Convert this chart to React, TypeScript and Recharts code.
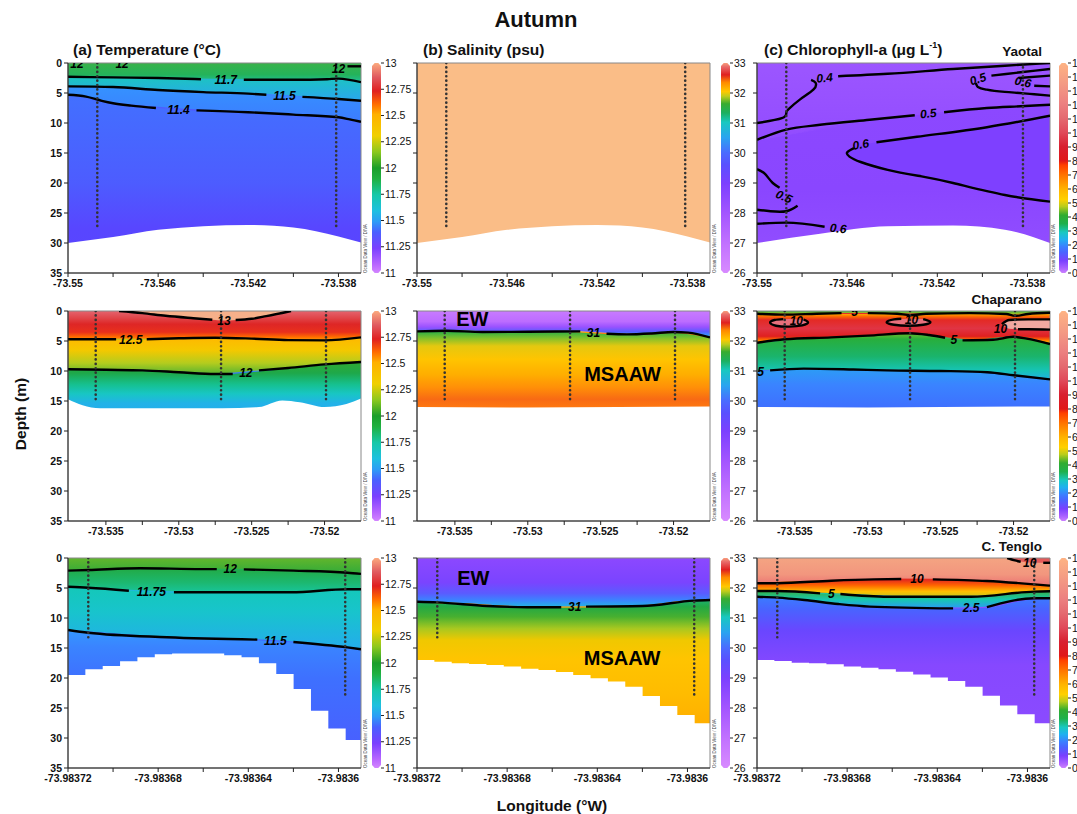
import React from 'react';
import {
  ComposedChart, BarChart, Bar, Area, Line, Scatter, XAxis, YAxis, ReferenceArea,
} from 'recharts';

type Pt = [number, number];
type Stop = [number, string];
type Lbl = { x: number; d: number; t: string; r?: number };
type Patch = { xs: number[]; lo: number[]; hi: number[]; fill: string };

const FONT = '"Liberation Sans", Arial, Helvetica, sans-serif';

// ---------------- axes ----------------
const DEPTH_TICKS = [0, 5, 10, 15, 20, 25, 30, 35];
const R1_DOMAIN: [number, number] = [-73.55, -73.537];
const R1_TICKS = [-73.55, -73.548, -73.546, -73.544, -73.542, -73.54, -73.538];
const R1_LABELS = ['-73.55', '', '-73.546', '', '-73.542', '', '-73.538'];
const R2_DOMAIN: [number, number] = [-73.5376, -73.5175];
const R2_TICKS = [-73.535, -73.5325, -73.53, -73.5275, -73.525, -73.5225, -73.52];
const R2_LABELS = ['-73.535', '', '-73.53', '', '-73.525', '', '-73.52'];
const R3_DOMAIN: [number, number] = [-73.98372, -73.98359];
const R3_TICKS = [-73.98372, -73.9837, -73.98368, -73.98366, -73.98364, -73.98362, -73.9836];
const R3_LABELS = ['-73.98372', '', '-73.98368', '', '-73.98364', '', '-73.9836'];

// colour bars
const TEMP_TICKS = [11, 11.25, 11.5, 11.75, 12, 12.25, 12.5, 12.75, 13];
const SAL_TICKS = [26, 27, 28, 29, 30, 31, 32, 33];
const CHL_TICKS = [0, 1, 2, 3, 4, 5, 6, 7, 8, 9, 10, 11, 12, 13, 14, 15];
const TEMP_PAL: Stop[] = [[11, '#d98cff'], [11.1, '#b866ff'], [11.25, '#7a40ff'], [11.4, '#4a60ff'], [11.5, '#2e9cf6'], [11.6, '#1ec0e0'], [11.75, '#16c8a8'], [11.9, '#1fb040'], [12, '#1a9e2a'], [12.15, '#8cc81e'], [12.3, '#f0d000'], [12.5, '#ffb000'], [12.6, '#ff6a00'], [12.72, '#e02020'], [12.85, '#e05a60'], [13, '#ffb583']];
const SAL_PAL: Stop[] = [[26, '#d98cff'], [27, '#c272ff'], [28, '#a456ff'], [29, '#7c40ff'], [29.6, '#5a50ff'], [30, '#4a6cff'], [30.5, '#2aa4f0'], [31, '#18c8c0'], [31.3, '#1cb060'], [31.6, '#38ac30'], [31.85, '#c0cc1c'], [32, '#ffc800'], [32.3, '#ff8a00'], [32.55, '#e02020'], [32.8, '#e86868'], [33, '#ffb583']];
const CHL_PAL: Stop[] = [[0, '#d98cff'], [0.5, '#a860ff'], [1, '#7a40ff'], [1.6, '#4a64ff'], [2, '#3a80ff'], [2.5, '#20b0f0'], [3, '#18c8c0'], [3.6, '#1eb04c'], [4.2, '#30ac30'], [4.8, '#b8cc1c'], [5.3, '#ffd000'], [6, '#ffb400'], [7, '#ff7400'], [7.7, '#ff4000'], [8, '#e01818'], [9, '#d82030'], [10, '#e04a5a'], [11, '#e46a70'], [12, '#ec8080'], [13.5, '#f49c84'], [15, '#ffb583']];

// ---------------- Row 1 : Yaotal ----------------
const Y_XS = [-73.55, -73.548, -73.546, -73.544, -73.542, -73.54, -73.538, -73.537];
const Y_SURF = [0, 0, 0, 0, 0, 0, 0, 0];
const Y_FLOOR = [35, 35, 35, 35, 35, 35, 35, 35];
const Y_BED = [30, 29.0, 27.8, 27.2, 27.0, 27.4, 28.9, 29.9];
const Y_STATIONS = [-73.5487, -73.5381];
const Y_STATION_ENDS = [27.3, 27.3];

const A1_T117 = [2.3, 2.4, 2.5, 2.7, 2.8, 2.8, 2.6, 3.2];
const A1_T115 = [3.9, 4.0, 4.5, 4.85, 5.1, 5.5, 6.0, 6.3];
const A1_T114 = [5.3, 6.7, 7.4, 7.9, 8.2, 8.6, 9.05, 9.8];
const A1_LINES: Pt[][] = [
  [[-73.55, 2.3], [-73.548, 2.4], [-73.546, 2.5], [-73.5441, 2.7]],
  [[-73.5422, 2.8], [-73.54, 2.8], [-73.5385, 2.7], [-73.538, 2.6], [-73.537, 3.2]],
  [[-73.55, 3.9], [-73.548, 4.0], [-73.546, 4.5], [-73.544, 4.85], [-73.542, 5.1], [-73.5412, 5.3]],
  [[-73.5396, 5.65], [-73.538, 6.0], [-73.537, 6.3]],
  [[-73.55, 5.3], [-73.5492, 5.6], [-73.5485, 6.3], [-73.548, 6.7], [-73.5472, 7.1], [-73.5461, 7.5]],
  [[-73.5443, 7.9], [-73.542, 8.2], [-73.54, 8.6], [-73.538, 9.05], [-73.5375, 9.4], [-73.537, 9.8]],
  [[-73.5376, 0.55], [-73.537, 0.55]],
];
const A1_LABELS: Lbl[] = [
  { x: -73.543, d: 2.8, t: '11.7' }, { x: -73.5404, d: 5.5, t: '11.5' }, { x: -73.5451, d: 7.75, t: '11.4' },
  { x: -73.5496, d: 0.1, t: '12' }, { x: -73.5476, d: 0.1, t: '12' }, { x: -73.538, d: 1.0, t: '12' },
];

const C1_L05 = [12.8, 11.5, 10.2, 9.2, 8.4, 7.7, 7.25, 6.95];
const C1_BED_XS = [-73.55, -73.5472, -73.5442, -73.5413, -73.539, -73.537];
const C1_BED = [30, 28.45, 27.2, 27.1, 27.8, 30];
const C1_STATIONS = [-73.5487, -73.5382];
const C1_TONGUE: Patch = {
  xs: [-73.546, -73.5457, -73.5447, -73.5429, -73.5413, -73.5398, -73.539, -73.537],
  lo: [14.9, 14.2, 13.2, 12.3, 11.5, 10.7, 10.3, 8.8],
  hi: [14.9, 16.0, 17.5, 18.9, 20.0, 21.1, 22.0, 23.1],
  fill: '#7e40ff',
};
const C1_LINES: Pt[][] = [
  [[-73.55, 10.0], [-73.5489, 9.2], [-73.5487, 8.3], [-73.5486, 7.7], [-73.5481, 6.1], [-73.5475, 4.45], [-73.5474, 3.3], [-73.5476, 2.8]],
  [[-73.5464, 2.2], [-73.5442, 1.8], [-73.5413, 1.0], [-73.539, 0.45], [-73.537, 0]],
  [[-73.55, 12.8], [-73.5487, 11.1], [-73.5472, 10.3], [-73.545, 9.45], [-73.543, 8.7]],
  [[-73.5417, 8.2], [-73.5398, 7.5], [-73.5383, 7.2], [-73.537, 6.95]],
  [[-73.5447, 13.2], [-73.5429, 12.3], [-73.5398, 10.7], [-73.537, 8.8]],
  [[-73.5457, 14.2], [-73.546, 14.9], [-73.5459, 15.6], [-73.5454, 16.5], [-73.5442, 17.8], [-73.5427, 18.9], [-73.5413, 20.0], [-73.539, 22.0], [-73.537, 23.1]],
  [[-73.5396, 2.1], [-73.5383, 1.55], [-73.537, 1.0]],
  [[-73.5403, 3.35], [-73.5402, 4.0], [-73.5398, 4.45], [-73.5387, 4.9], [-73.5377, 5.2], [-73.537, 5.45]],
  [[-73.5384, 2.5], [-73.537, 2.1]],
  [[-73.5377, 3.8], [-73.537, 3.9]],
  [[-73.55, 17.7], [-73.5497, 18.3], [-73.5493, 20.0], [-73.549, 20.8]],
  [[-73.5482, 23.8], [-73.5487, 24.7], [-73.5494, 24.7], [-73.55, 24.45]],
  [[-73.55, 26.8], [-73.5487, 26.6], [-73.547, 27.3]],
];
const C1_LABELS: Lbl[] = [
  { x: -73.547, d: 2.5, t: '0.4', r: -5 }, { x: -73.5424, d: 8.45, t: '0.5', r: -6 },
  { x: -73.5454, d: 13.6, t: '0.6', r: -10 }, { x: -73.5402, d: 2.7, t: '0.5', r: -18 },
  { x: -73.5382, d: 3.2, t: '0.6', r: 12 }, { x: -73.5488, d: 22.3, t: '0.5', r: 25 },
  { x: -73.5464, d: 27.6, t: '0.6', r: 5 },
];

// ---------------- Row 2 : Chaparano ----------------
const R2_XS = [-73.5376, -73.535, -73.5325, -73.53, -73.5275, -73.525, -73.5225, -73.52, -73.5175];
const R2_SURF = [0, 0, 0, 0, 0, 0, 0, 0, 0];
const R2_FLOOR = [35, 35, 35, 35, 35, 35, 35, 35, 35];
const R2_STATIONS = [-73.5357, -73.5271, -73.5199];

const A2_T125 = [4.7, 4.7, 4.7, 4.55, 4.45, 4.6, 4.85, 4.9, 4.4];
const A2_T12 = [9.7, 9.8, 9.9, 10.2, 10.5, 10.1, 9.5, 8.9, 8.5];
const A2_PEACH: Patch = {
  xs: [-73.5341, -73.5325, -73.5309, -73.529, -73.5277, -73.5269, -73.5261, -73.525, -73.524, -73.5223],
  lo: [0, 0, 0, 0, 0, 0, 0, 0, 0, 0],
  hi: [0, 0.35, 0.8, 1.2, 1.45, 1.6, 1.5, 1.3, 0.85, 0],
  fill: '#f6b08a',
};
const A2_BED_XS = [-73.5376, -73.5366, -73.5354, -73.533, -73.53, -73.527, -73.5245, -73.5229, -73.5217, -73.52, -73.5185, -73.5175];
const A2_BED = [14.7, 15.7, 16.2, 16.2, 16.2, 16.2, 16.0, 14.9, 15.2, 16.0, 15.5, 14.6];
const A2_LINES: Pt[][] = [
  [[-73.5341, 0], [-73.5325, 0.35], [-73.5309, 0.8], [-73.529, 1.2], [-73.5277, 1.45]],
  [[-73.5261, 1.5], [-73.525, 1.3], [-73.524, 0.85], [-73.5223, 0]],
  [[-73.5376, 4.7], [-73.5343, 4.7]],
  [[-73.5322, 4.7], [-73.53, 4.55], [-73.5275, 4.45], [-73.525, 4.6], [-73.5225, 4.85], [-73.52, 4.9], [-73.5175, 4.4]],
  [[-73.5376, 9.7], [-73.535, 9.8], [-73.5325, 9.9], [-73.53, 10.2], [-73.5275, 10.5], [-73.5263, 10.5]],
  [[-73.5245, 9.9], [-73.5225, 9.5], [-73.52, 8.9], [-73.5175, 8.5]],
];
const A2_LABELS: Lbl[] = [
  { x: -73.5269, d: 1.6, t: '13' }, { x: -73.5333, d: 4.75, t: '12.5' }, { x: -73.5254, d: 10.3, t: '12' },
];

const B2_S31 = [3.4, 3.3, 3.45, 3.45, 3.4, 3.7, 3.9, 3.55, 4.4];
const B2_BED_XS = [-73.5376, -73.53, -73.5175];
const B2_BED = [16.0, 16.1, 15.9];
const B2_LINES: Pt[][] = [
  [[-73.5376, 3.4], [-73.5356, 3.3], [-73.5331, 3.5], [-73.53, 3.45], [-73.5264, 3.4]],
  [[-73.5246, 3.8], [-73.5232, 3.9], [-73.5215, 3.75], [-73.52, 3.5], [-73.519, 3.6], [-73.5175, 4.4]],
];
const B2_LABELS: Lbl[] = [{ x: -73.5255, d: 3.6, t: '31' }];
const B2_TEXTS: Lbl[] = [{ x: -73.5338, d: 1.35, t: 'EW' }, { x: -73.5235, d: 10.5, t: 'MSAAW' }];

const C2_TOP5 = [0.45, 0.55, 0.45, 0.4, 0.5, 0.45, 0.4, 0.6, 0.35];
const C2_MID5 = [5.3, 4.65, 4.4, 4.15, 3.75, 4.4, 4.85, 4.3, 5.5];
const C2_L25 = [10.0, 9.7, 9.7, 9.8, 9.9, 10.0, 10.15, 10.7, 11.4];
const C2_LOOPS: Patch[] = [
  { xs: [-73.5367, -73.5363, -73.5354, -73.5345, -73.5341], lo: [1.95, 1.5, 1.35, 1.45, 1.9], hi: [1.95, 2.45, 2.6, 2.4, 1.9], fill: '#e8707c' },
  { xs: [-73.5287, -73.5282, -73.5272, -73.5262, -73.5257], lo: [1.85, 1.4, 1.3, 1.35, 1.85], hi: [1.85, 2.3, 2.45, 2.3, 1.85], fill: '#e8707c' },
  { xs: [-73.5208, -73.5203, -73.519, -73.5175], lo: [2.2, 1.5, 1.4, 1.4], hi: [2.2, 2.95, 3.05, 3.1], fill: '#f0a8a0' },
];
const C2_LINES: Pt[][] = [
  [[-73.5376, 0.45], [-73.5357, 0.6], [-73.5335, 0.45], [-73.5318, 0.35]],
  [[-73.53, 0.35], [-73.528, 0.45], [-73.5271, 0.7], [-73.526, 0.45], [-73.523, 0.35], [-73.5205, 0.5], [-73.5199, 0.8], [-73.519, 0.5], [-73.5175, 0.3]],
  [[-73.5344, 1.45], [-73.5341, 1.9], [-73.5345, 2.4], [-73.5354, 2.6], [-73.5363, 2.45], [-73.5367, 1.95], [-73.5364, 1.5], [-73.5358, 1.35]],
  [[-73.5262, 1.35], [-73.5257, 1.85], [-73.5262, 2.3], [-73.5272, 2.45], [-73.5282, 2.3], [-73.5287, 1.85], [-73.5282, 1.4], [-73.5277, 1.3]],
  [[-73.5208, 2.2], [-73.5203, 1.5], [-73.519, 1.4], [-73.5175, 1.4]],
  [[-73.5197, 3.05], [-73.519, 3.05], [-73.5175, 3.1]],
  [[-73.5376, 5.3], [-73.5357, 4.7], [-73.5325, 4.4], [-73.53, 4.1], [-73.5271, 3.7], [-73.5258, 4.0], [-73.5247, 4.45]],
  [[-73.5235, 4.9], [-73.5214, 4.8], [-73.52, 4.3], [-73.5191, 4.6], [-73.5175, 5.5]],
  [[-73.5367, 9.9], [-73.5344, 9.6], [-73.531, 9.75], [-73.5287, 9.9], [-73.525, 10.0], [-73.5218, 10.2], [-73.52, 10.7], [-73.5175, 11.4]],
];
const C2_LABELS: Lbl[] = [
  { x: -73.5309, d: 0.15, t: '5' }, { x: -73.5349, d: 1.65, t: '10' }, { x: -73.527, d: 1.45, t: '10' },
  { x: -73.5209, d: 2.95, t: '10' }, { x: -73.5241, d: 4.8, t: '5' }, { x: -73.5377, d: 10.2, t: '2.5' },
];

// ---------------- Row 3 : C. Tenglo ----------------
const R3_XS = [-73.98372, -73.9837, -73.98368, -73.98366, -73.98364, -73.98362, -73.9836, -73.98359];
const R3_SURF = [0, 0, 0, 0, 0, 0, 0, 0];
const R3_FLOOR = [35, 35, 35, 35, 35, 35, 35, 35];
const R3_EDGES = [-73.98372, -73.9837123, -73.9837046, -73.9836969, -73.9836892, -73.9836815, -73.9836738, -73.9836661, -73.9836584, -73.9836507, -73.983643, -73.9836353, -73.9836276, -73.9836199, -73.9836122, -73.9836045, -73.9835968, -73.9835891];
const R3_STATIONS = [-73.983711, -73.983597];
const R3_STATION_ENDS = [13.3, 23.1];

const A3_T12 = [2.1, 1.85, 1.7, 1.85, 1.9, 2.1, 2.4, 2.65];
const A3_T1175 = [4.8, 5.2, 5.6, 5.7, 5.7, 5.7, 5.25, 5.2];
const A3_T115 = [12.0, 12.6, 13.15, 13.35, 13.55, 14.0, 14.75, 15.2];
const A3_BED = [19.5, 18.55, 18.0, 17.2, 16.55, 16.05, 15.9, 15.9, 15.9, 16.2, 16.55, 17.55, 19.35, 21.85, 25.45, 28.4, 30.35, 30.35];
const A3_LINES: Pt[][] = [
  [[-73.98372, 2.1], [-73.983711, 2.0], [-73.983688, 1.7], [-73.983661, 1.85], [-73.983654, 1.85]],
  [[-73.983642, 1.9], [-73.98362, 2.1], [-73.983596, 2.45], [-73.98359, 2.65]],
  [[-73.98372, 4.8], [-73.983711, 4.95], [-73.983693, 5.45]],
  [[-73.983673, 5.7], [-73.983621, 5.7], [-73.983596, 5.2], [-73.98359, 5.2]],
  [[-73.98372, 12.0], [-73.983711, 12.45], [-73.983676, 13.2], [-73.983636, 13.6]],
  [[-73.98362, 14.0], [-73.983596, 14.9], [-73.98359, 15.2]],
];
const A3_LABELS: Lbl[] = [
  { x: -73.983648, d: 1.85, t: '12' }, { x: -73.983683, d: 5.7, t: '11.75' }, { x: -73.983628, d: 13.8, t: '11.5' },
];

const B3_S31 = [7.3, 7.6, 8.05, 8.2, 8.15, 8.0, 7.15, 7.0];
const B3_BED = [17.0, 17.3, 17.55, 17.65, 17.85, 18.1, 18.45, 18.65, 19.0, 19.5, 20.05, 20.6, 21.45, 23.0, 24.65, 26.15, 27.55, 27.55];
const B3_LINES: Pt[][] = [
  [[-73.98372, 7.3], [-73.983711, 7.4], [-73.983689, 8.0], [-73.983671, 8.2], [-73.983656, 8.2]],
  [[-73.983645, 8.1], [-73.98362, 8.0], [-73.983597, 7.1], [-73.98359, 7.0]],
];
const B3_LABELS: Lbl[] = [{ x: -73.98365, d: 8.15, t: '31' }];
const B3_TEXTS: Lbl[] = [{ x: -73.983695, d: 3.4, t: 'EW' }, { x: -73.983629, d: 16.7, t: 'MSAAW' }];

const C3_C10 = [4.2, 3.95, 3.7, 3.52, 3.56, 3.8, 4.3, 4.6];
const C3_C5 = [5.5, 5.75, 6.05, 6.4, 6.45, 6.4, 5.7, 5.55];
const C3_C25 = [6.45, 7.0, 7.85, 8.25, 8.35, 8.25, 6.9, 6.72];
const C3_BED = [17.0, 17.15, 17.45, 17.55, 17.7, 18.1, 18.3, 18.55, 18.95, 19.4, 19.9, 20.5, 21.45, 22.95, 24.6, 26.05, 27.55, 27.55];
const C3_CORNER: Patch = { xs: [-73.983609, -73.983603, -73.983597, -73.98359], lo: [0, 0, 0, 0], hi: [0, 0.6, 0.8, 0.8], fill: '#e45a5a' };
const C3_LINES: Pt[][] = [
  [[-73.98372, 4.2], [-73.983711, 4.2], [-73.983687, 3.78], [-73.983668, 3.56], [-73.983656, 3.5]],
  [[-73.983642, 3.56], [-73.983618, 3.83], [-73.983597, 4.39], [-73.98359, 4.61]],
  [[-73.98372, 5.5], [-73.983711, 5.5], [-73.983692, 5.9]],
  [[-73.983683, 6.0], [-73.983662, 6.45], [-73.983625, 6.45], [-73.983597, 5.6], [-73.98359, 5.55]],
  [[-73.98372, 6.45], [-73.983711, 6.6], [-73.983699, 7.0], [-73.983684, 7.67], [-73.98367, 8.1], [-73.983633, 8.4]],
  [[-73.983618, 8.2], [-73.983597, 6.72], [-73.98359, 6.72]],
  [[-73.983609, 0], [-73.983605, 0.45], [-73.983603, 0.62]],
  [[-73.983593, 0.8], [-73.98359, 0.8]],
];
const C3_LABELS: Lbl[] = [
  { x: -73.983649, d: 3.56, t: '10' }, { x: -73.983687, d: 6.0, t: '5' },
  { x: -73.983625, d: 8.28, t: '2.5' }, { x: -73.983599, d: 0.78, t: '10' },
];

// ---------------- layout ----------------
const PLOT_W = 293;
const PLOT_H = 210;
const Y_W = 45;
const X_H = 30;
const COL_LEFT = [68, 417, 757];
const ROW_TOP = [63, 311, 558];
const CBAR_LEFT = [371, 720, 1058];
const CREDIT_X = [365.5, 714.5, 1054];

interface PanelCfg {
  id: string; col: number; row: number;
  domain: [number, number]; ticks: number[]; tickLabels: string[];
  xs: number[]; levels: number[][]; stops: Stop[][];
  patches: Patch[]; lines: Pt[][]; labels: Lbl[]; texts: Lbl[];
  bedXs: number[]; bed: number[]; bedCurve: 'monotone' | 'stepAfter' | 'linear';
  stations: number[]; stationEnds: number[];
}

const PANELS: PanelCfg[] = [
  {
    id: 'a1', col: 0, row: 0, domain: R1_DOMAIN, ticks: R1_TICKS, tickLabels: R1_LABELS,
    xs: Y_XS, levels: [Y_SURF, A1_T117, A1_T115, A1_T114, Y_FLOOR],
    stops: [
      [[0, '#3ab24a'], [0.6, '#24b35a'], [1, '#1ebf98']],
      [[0, '#1cc4c0'], [1, '#2aa6ee']],
      [[0, '#3592ff'], [1, '#3c7cff']],
      [[0, '#4270ff'], [0.5, '#4d5cff'], [0.75, '#5846ff'], [1, '#5a44ff']],
    ],
    patches: [], lines: A1_LINES, labels: A1_LABELS, texts: [],
    bedXs: Y_XS, bed: Y_BED, bedCurve: 'monotone', stations: Y_STATIONS, stationEnds: Y_STATION_ENDS,
  },
  {
    id: 'b1', col: 1, row: 0, domain: R1_DOMAIN, ticks: R1_TICKS, tickLabels: R1_LABELS,
    xs: Y_XS, levels: [Y_SURF, Y_FLOOR],
    stops: [[[0, '#fabd87'], [1, '#fabd87']]],
    patches: [], lines: [], labels: [], texts: [],
    bedXs: Y_XS, bed: Y_BED, bedCurve: 'monotone', stations: Y_STATIONS, stationEnds: Y_STATION_ENDS,
  },
  {
    id: 'c1', col: 2, row: 0, domain: R1_DOMAIN, ticks: R1_TICKS, tickLabels: R1_LABELS,
    xs: Y_XS, levels: [Y_SURF, C1_L05, Y_FLOOR],
    stops: [
      [[0, '#9c56ff'], [1, '#924cff']],
      [[0, '#8c48ff'], [0.5, '#8a46ff'], [1, '#9450ff']],
    ],
    patches: [C1_TONGUE], lines: C1_LINES, labels: C1_LABELS, texts: [],
    bedXs: C1_BED_XS, bed: C1_BED, bedCurve: 'monotone', stations: C1_STATIONS, stationEnds: Y_STATION_ENDS,
  },
  {
    id: 'a2', col: 0, row: 1, domain: R2_DOMAIN, ticks: R2_TICKS, tickLabels: R2_LABELS,
    xs: R2_XS, levels: [R2_SURF, A2_T125, A2_T12, R2_FLOOR],
    stops: [
      [[0, '#e4646e'], [0.25, '#e04448'], [0.45, '#de2626'], [0.72, '#e8301c'], [0.88, '#ff6a00'], [1, '#ffa000']],
      [[0, '#ffb800'], [0.35, '#f4c800'], [0.7, '#b4cc1e'], [1, '#58b430']],
      [[0, '#30aa30'], [0.07, '#1ea84a'], [0.14, '#16c08e'], [0.2, '#18c6c4'], [0.26, '#22b2e8'], [1, '#3a70ff']],
    ],
    patches: [A2_PEACH], lines: A2_LINES, labels: A2_LABELS, texts: [],
    bedXs: A2_BED_XS, bed: A2_BED, bedCurve: 'monotone', stations: R2_STATIONS, stationEnds: [15.3, 15.3, 15.3],
  },
  {
    id: 'b2', col: 1, row: 1, domain: R2_DOMAIN, ticks: R2_TICKS, tickLabels: R2_LABELS,
    xs: R2_XS, levels: [R2_SURF, B2_S31, R2_FLOOR],
    stops: [
      [[0, '#c87aff'], [0.4, '#bc6cff'], [0.6, '#9a52ff'], [0.78, '#5a5cff'], [0.9, '#3a8cff'], [1, '#20b8d8']],
      [[0, '#22ae48'], [0.04, '#84c02a'], [0.08, '#e4c810'], [0.15, '#ffc400'], [0.23, '#ffae00'], [0.3, '#ff8e08'], [0.36, '#f86a14'], [0.41, '#ff7a10'], [1, '#ff8000']],
    ],
    patches: [], lines: B2_LINES, labels: B2_LABELS, texts: B2_TEXTS,
    bedXs: B2_BED_XS, bed: B2_BED, bedCurve: 'linear', stations: R2_STATIONS, stationEnds: [15.1, 15.1, 15.1],
  },
  {
    id: 'c2', col: 2, row: 1, domain: R2_DOMAIN, ticks: R2_TICKS, tickLabels: R2_LABELS,
    xs: R2_XS, levels: [R2_SURF, C2_TOP5, C2_MID5, C2_L25, R2_FLOOR],
    stops: [
      [[0, '#40b040'], [1, '#b8c820']],
      [[0, '#ffc000'], [0.1, '#ff7000'], [0.22, '#e42a24'], [0.5, '#e03444'], [0.75, '#e02020'], [0.86, '#ff6a00'], [0.95, '#ffbe00'], [1, '#d0ca1a']],
      [[0, '#6cbc2c'], [0.12, '#28ae3c'], [0.5, '#1ab46c'], [0.8, '#16c4b4'], [1, '#20b2e2']],
      [[0, '#2c9cf6'], [0.1, '#3a84ff'], [0.25, '#3e70ff'], [1, '#4a5cff']],
    ],
    patches: C2_LOOPS, lines: C2_LINES, labels: C2_LABELS, texts: [],
    bedXs: B2_BED_XS, bed: B2_BED, bedCurve: 'linear', stations: R2_STATIONS, stationEnds: [15.1, 15.1, 15.1],
  },
  {
    id: 'a3', col: 0, row: 2, domain: R3_DOMAIN, ticks: R3_TICKS, tickLabels: R3_LABELS,
    xs: R3_XS, levels: [R3_SURF, A3_T12, A3_T1175, A3_T115, R3_FLOOR],
    stops: [
      [[0, '#62b62c'], [1, '#30aa3a']],
      [[0, '#22aa44'], [0.6, '#1cb870'], [1, '#18c49a']],
      [[0, '#14c8b8'], [0.4, '#18c4cc'], [1, '#24acec']],
      [[0, '#3498ff'], [0.12, '#3a84ff'], [0.35, '#3e70ff'], [1, '#4c5aff']],
    ],
    patches: [], lines: A3_LINES, labels: A3_LABELS, texts: [],
    bedXs: R3_EDGES, bed: A3_BED, bedCurve: 'stepAfter', stations: R3_STATIONS, stationEnds: R3_STATION_ENDS,
  },
  {
    id: 'b3', col: 1, row: 2, domain: R3_DOMAIN, ticks: R3_TICKS, tickLabels: R3_LABELS,
    xs: R3_XS, levels: [R3_SURF, B3_S31, R3_FLOOR],
    stops: [
      [[0, '#8c48ff'], [0.5, '#7a44ff'], [0.72, '#5a5cff'], [0.86, '#3a84ff'], [1, '#22b8e0']],
      [[0, '#1eb070'], [0.04, '#22a844'], [0.1, '#48b030'], [0.17, '#a8c820'], [0.24, '#f0c800'], [0.35, '#ffc400'], [0.55, '#ffbc00'], [0.75, '#ffae00'], [1, '#ffa000']],
    ],
    patches: [], lines: B3_LINES, labels: B3_LABELS, texts: B3_TEXTS,
    bedXs: R3_EDGES, bed: B3_BED, bedCurve: 'stepAfter', stations: R3_STATIONS, stationEnds: R3_STATION_ENDS,
  },
  {
    id: 'c3', col: 2, row: 2, domain: R3_DOMAIN, ticks: R3_TICKS, tickLabels: R3_LABELS,
    xs: R3_XS, levels: [R3_SURF, C3_C10, C3_C5, C3_C25, R3_FLOOR],
    stops: [
      [[0, '#f4a482'], [0.6, '#f2967e'], [1, '#ea7272']],
      [[0, '#e02424'], [0.35, '#ff6400'], [0.7, '#ffbe00'], [1, '#c8c81c']],
      [[0, '#34b044'], [0.5, '#18c6b0'], [1, '#2a9cf4']],
      [[0, '#3a7cff'], [0.08, '#4a62ff'], [0.2, '#6a46ff'], [0.4, '#8648ff'], [1, '#8e4cff']],
    ],
    patches: [C3_CORNER], lines: C3_LINES, labels: C3_LABELS, texts: [],
    bedXs: R3_EDGES, bed: C3_BED, bedCurve: 'stepAfter', stations: R3_STATIONS, stationEnds: R3_STATION_ENDS,
  },
];

function curveFor(seg: Pt[]): 'monotone' | 'natural' {
  for (let i = 1; i < seg.length; i++) if (seg[i][0] <= seg[i - 1][0]) return 'natural';
  return 'monotone';
}

const textShape = (size: number, italic: boolean) => (p: any) => {
  const { cx, cy, payload } = p;
  if (cx == null || cy == null || !payload) return <g />;
  return (
    <text
      x={cx} y={cy} textAnchor="middle" dominantBaseline="central"
      fontSize={size} fontWeight={700} fontStyle={italic ? 'italic' : 'normal'}
      fill="#000" fontFamily={FONT}
      transform={payload.r ? `rotate(${payload.r} ${cx} ${cy})` : undefined}
    >
      {payload.t}
    </text>
  );
};

function Panel({ cfg }: { cfg: PanelCfg }) {
  const W = Y_W + PLOT_W + 10;
  const H = 10 + PLOT_H + X_H;
  const left = COL_LEFT[cfg.col];
  const top = ROW_TOP[cfg.row];
  const bandData = cfg.xs.map((x, i) => {
    const r: Record<string, number> = { x };
    cfg.levels.forEach((lv, j) => { r['b' + j] = lv[i]; });
    return r;
  });
  const bedData = cfg.bedXs.map((x, i) => ({ x, lo: cfg.bed[i], hi: 35 }));
  const fmt = (v: number) => {
    const i = cfg.ticks.findIndex((t) => Math.abs(t - v) < 1e-9);
    return i >= 0 ? cfg.tickLabels[i] : '';
  };
  const showDepth = cfg.col === 0;
  return (
    <div style={{ position: 'absolute', left: left - Y_W, top: top - 10 }}>
      <ComposedChart width={W} height={H} margin={{ top: 10, right: 10, bottom: 0, left: 0 }}>
        <defs>
          {cfg.stops.map((st, j) => (
            <linearGradient key={j} id={`${cfg.id}-g${j}`} x1="0" y1="0" x2="0" y2="1">
              {st.map(([o, c], k) => <stop key={k} offset={o} stopColor={c} />)}
            </linearGradient>
          ))}
        </defs>
        <XAxis
          type="number" dataKey="x" domain={cfg.domain} allowDataOverflow ticks={cfg.ticks} interval={0}
          tickFormatter={fmt} height={X_H} tickSize={4} tickMargin={3} stroke="#222"
          tick={{ fontSize: 10.5, fontWeight: 700, fill: '#111', fontFamily: FONT }}
        />
        <YAxis
          type="number" dataKey="d" reversed domain={[0, 35]} allowDataOverflow ticks={DEPTH_TICKS} interval={0}
          width={Y_W} tickSize={4} tickMargin={2} stroke="#222"
          tickFormatter={showDepth ? (v: number) => String(v) : () => ''}
          tick={{ fontSize: 10.5, fontWeight: 700, fill: '#111', fontFamily: FONT }}
        />
        {cfg.stops.map((_, j) => (
          <Area
            key={'band' + j} data={bandData} dataKey={(r: any) => [r['b' + j], r['b' + (j + 1)]]}
            type="monotone" stroke={`url(#${cfg.id}-g${j})`} strokeWidth={1.2} fill={`url(#${cfg.id}-g${j})`} fillOpacity={1}
            isAnimationActive={false} dot={false} activeDot={false}
          />
        ))}
        {cfg.patches.map((p, k) => (
          <Area
            key={'patch' + k} data={p.xs.map((x, i) => ({ x, lo: p.lo[i], hi: p.hi[i] }))}
            dataKey={(r: any) => [r.lo, r.hi]} type="monotone" stroke="none" fill={p.fill} fillOpacity={1}
            isAnimationActive={false} dot={false} activeDot={false}
          />
        ))}
        {cfg.lines.map((seg, k) => (
          <Line
            key={'line' + k} data={seg.map(([x, d]) => ({ x, d }))} dataKey="d" type={curveFor(seg)}
            stroke="#000" strokeWidth={2.4} dot={false} activeDot={false} isAnimationActive={false}
          />
        ))}
        <Scatter data={cfg.labels} dataKey="d" isAnimationActive={false} shape={textShape(12, true)} />
        <Scatter data={cfg.texts} dataKey="d" isAnimationActive={false} shape={textShape(20, false)} />
        <Area
          data={bedData} dataKey={(r: any) => [r.lo, r.hi]} type={cfg.bedCurve}
          stroke="none" fill="#ffffff" fillOpacity={1} isAnimationActive={false} dot={false} activeDot={false}
        />
        {cfg.stations.map((x, k) => (
          <Line
            key={'st' + k} data={[{ x, d: 0 }, { x, d: cfg.stationEnds[k] }]} dataKey="d" type="linear"
            stroke="#333" strokeWidth={2.6} strokeDasharray="0.1 4.3" strokeLinecap="round"
            dot={false} activeDot={false} isAnimationActive={false}
          />
        ))}
        <ReferenceArea x1={cfg.domain[0]} x2={cfg.domain[1]} y1={0} y2={35} fill="none" stroke="#888" strokeWidth={1} />
      </ComposedChart>
    </div>
  );
}

function ColorBar({ id, left, top, min, max, ticks, pal }: { id: string; left: number; top: number; min: number; max: number; ticks: number[]; pal: Stop[] }) {
  const data = [{ n: 'c', v: [min, max] }];
  const stops = pal.slice().reverse();
  return (
    <div style={{ position: 'absolute', left, top: top - 10 }}>
      <BarChart width={50} height={PLOT_H + 20} data={data} margin={{ top: 10, right: 0, bottom: 10, left: 0 }} barCategoryGap={0}>
        <defs>
          <linearGradient id={id} x1="0" y1="0" x2="0" y2="1">
            {stops.map(([v, c], k) => <stop key={k} offset={(max - v) / (max - min)} stopColor={c} />)}
          </linearGradient>
        </defs>
        <XAxis dataKey="n" hide />
        <YAxis
          orientation="right" type="number" domain={[min, max]} ticks={ticks} interval={0} width={40}
          axisLine={false} tickSize={3} tickMargin={1} stroke="#222" allowDataOverflow
          tick={{ fontSize: 10.5, fill: '#111', fontFamily: FONT }}
        />
        <Bar
          dataKey="v" barSize={10} isAnimationActive={false}
          shape={(p: any) => {
            const { x, y, width: w, height: h } = p;
            const d = `M${x},${y + 3} L${x + w / 2},${y - 2} L${x + w},${y + 3} L${x + w},${y + h - 3} L${x + w / 2},${y + h + 2} L${x},${y + h - 3} Z`;
            return <path d={d} fill={`url(#${id})`} />;
          }}
        />
      </BarChart>
    </div>
  );
}

const BAR_SPECS = [
  { min: 11, max: 13, ticks: TEMP_TICKS, pal: TEMP_PAL },
  { min: 26, max: 33, ticks: SAL_TICKS, pal: SAL_PAL },
  { min: 0, max: 15, ticks: CHL_TICKS, pal: CHL_PAL },
];

const abs = (s: React.CSSProperties): React.CSSProperties => ({ position: 'absolute', whiteSpace: 'nowrap', lineHeight: 1, ...s });

export default function App() {
  return (
    <div style={{ position: 'absolute', left: 0, top: 0, width: 1077, height: 814, background: '#fff', fontFamily: FONT, color: '#111', overflow: 'hidden' }}>
      <div style={abs({ left: 536, top: 20, transform: 'translate(-50%,-50%)', fontSize: 22, fontWeight: 700 })}>Autumn</div>
      <div style={abs({ left: 73, top: 50, transform: 'translateY(-50%)', fontSize: 15.5, fontWeight: 700 })}>(a) Temperature (°C)</div>
      <div style={abs({ left: 423, top: 50, transform: 'translateY(-50%)', fontSize: 15.5, fontWeight: 700 })}>(b) Salinity (psu)</div>
      <div style={abs({ left: 764, top: 50, transform: 'translateY(-50%)', fontSize: 15.5, fontWeight: 700 })}>
        (c) Chlorophyll-a (μg L<sup style={{ fontSize: 9, verticalAlign: 'top', position: 'relative', top: -1 }}>-1</sup>)
      </div>
      <div style={abs({ right: 35, top: 52, transform: 'translateY(-50%)', fontSize: 13.5, fontWeight: 700 })}>Yaotal</div>
      <div style={abs({ right: 35, top: 300, transform: 'translateY(-50%)', fontSize: 13.5, fontWeight: 700 })}>Chaparano</div>
      <div style={abs({ right: 35, top: 547, transform: 'translateY(-50%)', fontSize: 13.5, fontWeight: 700 })}>C. Tenglo</div>
      <div style={abs({ left: 21, top: 414, transform: 'translate(-50%,-50%) rotate(-90deg)', fontSize: 15.5, fontWeight: 700 })}>Depth (m)</div>
      <div style={abs({ left: 552, top: 806, transform: 'translate(-50%,-50%)', fontSize: 15.5, fontWeight: 700 })}>Longitude (°W)</div>

      {PANELS.map((p) => <Panel key={p.id} cfg={p} />)}

      {PANELS.map((p) => {
        const s = BAR_SPECS[p.col];
        return (
          <ColorBar key={'cb' + p.id} id={'cb-' + p.id} left={CBAR_LEFT[p.col]} top={ROW_TOP[p.row]} min={s.min} max={s.max} ticks={s.ticks} pal={s.pal} />
        );
      })}

      {PANELS.map((p) => (
        <div
          key={'cr' + p.id}
          style={abs({
            left: CREDIT_X[p.col] - 3, top: ROW_TOP[p.row] + PLOT_H - 52, height: 52, width: 6,
            writingMode: 'vertical-rl', transform: 'rotate(180deg)', fontSize: 4.5, lineHeight: '6px', color: '#444',
          })}
        >
          Ocean Data View / DIVA
        </div>
      ))}
    </div>
  );
}
